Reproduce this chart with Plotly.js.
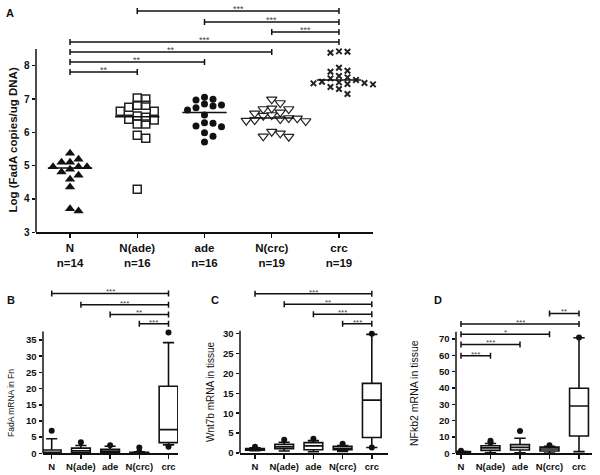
<!DOCTYPE html>
<html><head><meta charset="utf-8">
<script src="https://cdn.plot.ly/plotly-3.0.1.min.js"></script>
<style>html,body{margin:0;padding:0;background:#fff}#chart{width:600px;height:475px}</style>
</head><body><div id="chart"></div>
<script>
// ---------- data ----------
const groups = ['N', 'N(ade)', 'ade', 'N(crc)', 'crc'];
const groupN = ['n=14', 'n=16', 'n=16', 'n=19', 'n=19'];

// Panel A: Log (FadA copies/ug DNA), individual samples
const aN    = [5.37, 4.97, 5.10, 5.10, 5.19, 4.89, 4.97, 4.97, 4.81, 4.71, 4.59, 4.36, 3.64, 3.71];
const aNade = [6.81, 7.00, 7.03, 6.81, 6.75, 6.63, 6.63, 6.45, 6.37, 6.49, 6.25, 6.25, 6.39, 5.91, 5.82, 4.29];
const aAde  = [6.82, 7.05, 6.97, 6.74, 6.67, 6.52, 6.17, 6.27, 5.99, 5.71, 6.99, 6.85, 6.79, 6.29, 6.19, 5.88];
const aNcrc = [6.99, 6.88, 6.72, 6.70, 6.70, 6.60, 6.57, 6.52, 6.50, 6.43, 6.42, 6.40, 6.37, 6.35, 6.34, 6.02, 5.97, 5.87, 5.88];
const aCrc  = [8.42, 8.39, 8.43, 7.94, 7.82, 7.85, 7.69, 7.65, 7.57, 7.62, 7.47, 7.45, 7.52, 7.48, 7.44, 7.36, 7.30, 7.15, 7.50];
const sigAFrom = [0, 0, 0, 0, 3, 2, 1];
const sigATo   = [1, 2, 3, 4, 4, 4, 4];
const sigALevel = [7.81, 8.11, 8.41, 8.71, 9.01, 9.31, 9.64];
const sigALabel = ['**', '**', '**', '***', '***', '***', '***'];

// Panel B: FadA mRNA in Fn (box summaries)
const bQ1  = [0.0, 0.2, 0.1, 0.05, 3.3];
const bMed = [0.3, 0.8, 0.6, 0.15, 7.3];
const bQ3  = [1.0, 1.6, 1.2, 0.3, 20.7];
const bLo  = [0.0, 0.0, 0.0, 0.0, 2.6];
const bHi  = [4.5, 2.4, 2.2, 0.45, 34.2];
const bOutGroup = [0, 1, 2, 3, 3, 4, 4];
const bOutVal   = [7.0, 3.4, 2.5, 1.8, 0.5, 37.3, 2.0];
const sigBFrom = [0, 1, 2, 3];
const sigBTo   = [4, 4, 4, 4];
const sigBLevel = [49.4, 45.9, 42.9, 40.0];
const sigBLabel = ['***', '***', '**', '***'];

// Panel C: Wnt7b mRNA in tissue
const cQ1  = [0.7, 1.1, 0.8, 0.85, 3.9];
const cMed = [0.9, 1.6, 1.8, 1.2, 13.3];
const cQ3  = [1.1, 2.2, 2.6, 1.7, 17.5];
const cLo  = [0.6, 0.5, 0.3, 0.4, 1.4];
const cHi  = [1.3, 2.7, 3.1, 1.9, 29.8];
const cOutGroup = [0, 1, 2, 3, 4, 4];
const cOutVal   = [1.6, 3.3, 3.6, 2.3, 30.0, 1.4];
const sigCFrom = [0, 1, 2, 3];
const sigCTo   = [4, 4, 4, 4];
const sigCLevel = [40.05, 37.4, 34.85, 32.5];
const sigCLabel = ['***', '**', '***', '***'];

// Panel D: NFkb2 mRNA in tissue
const dQ1  = [0.5, 1.8, 2.0, 1.4, 10.6];
const dMed = [0.8, 3.3, 3.6, 2.6, 29.0];
const dQ3  = [1.0, 4.6, 5.3, 3.8, 39.8];
const dLo  = [0.3, 0.3, 0.3, 0.2, 1.0];
const dHi  = [1.3, 6.0, 9.2, 4.3, 70.8];
const dOutGroup = [0, 1, 1, 2, 3, 4];
const dOutVal   = [1.6, 7.7, 6.6, 13.7, 4.9, 71.0];
const sigDFrom = [3, 0, 0, 0, 0];
const sigDTo   = [4, 4, 3, 2, 1];
const sigDLevel = [85.7, 79.2, 72.9, 66.7, 59.8];
const sigDLabel = ['**', '***', '*', '***', '***'];

// ---------- geometry (pixels of the 600x475 page) ----------
const W = 600, H = 475;
const FONT = 'Liberation Sans, Arial, sans-serif';
const geo = {
  A: {x0: 36,  x1: 373,   yb: 232.3, yt: 4.06,  xr: [-0.506, 4.506], yr: [3, 9.85], axTop: 8.5, ticks: [3,4,5,6,7,8]},
  B: {x0: 43,  x1: 178,   yb: 453.3, yt: 285.0, xr: [-0.298, 4.325], yr: [0, 52],   axTop: 37.6, ticks: [0,5,10,15,20,25,30,35]},
  C: {x0: 240, x1: 388.3, yb: 453.0, yt: 281.9, xr: [-0.514, 4.565], yr: [0, 43],   axTop: 30.7, ticks: [0,5,10,15,20,25,30]},
  D: {x0: 456, x1: 591.7, yb: 453.3, yt: 303.1, xr: [-0.169, 4.43],  yr: [0, 92],   axTop: 74.5, ticks: [0,10,20,30,40,50,60,70]}
};
function pxPerY(g){ return (g.yb - g.yt) / (g.yr[1] - g.yr[0]); }
function pxPerX(g){ return (g.x1 - g.x0) / (g.xr[1] - g.xr[0]); }

const traces = [];
const shapes = [];
const annotations = [];
const layout = {
  width: W, height: H, margin: {l: 0, r: 0, t: 0, b: 0},
  paper_bgcolor: '#fff', plot_bgcolor: 'rgba(0,0,0,0)',
  showlegend: false, font: {family: FONT, color: '#111'},
  shapes: shapes, annotations: annotations
};

const ids = {A: ['x', 'y', 'xaxis', 'yaxis'], B: ['x2', 'y2', 'xaxis2', 'yaxis2'], C: ['x3', 'y3', 'xaxis3', 'yaxis3'], D: ['x4', 'y4', 'xaxis4', 'yaxis4']};

function setupAxes(key, tickText, xFontSize, yFontSize) {
  const g = geo[key], [xa, ya, xk, yk] = ids[key];
  layout[xk] = {
    domain: [g.x0 / W, g.x1 / W], range: g.xr, anchor: ya,
    showgrid: false, zeroline: false, showline: true, linecolor: '#111', linewidth: 1.5,
    ticks: 'outside', ticklen: 4, tickwidth: 1.5, tickcolor: '#111',
    tickvals: [0, 1, 2, 3, 4], ticktext: tickText,
    tickfont: {family: FONT, size: xFontSize, weight: 'bold', color: '#111'}, fixedrange: true
  };
  layout[yk] = {
    domain: [1 - g.yb / H, 1 - g.yt / H], range: g.yr, anchor: xa,
    showgrid: false, zeroline: false, showline: false,
    ticks: 'outside', ticklen: 3.5, tickwidth: 1.5, tickcolor: '#111',
    tickvals: g.ticks, tickfont: {family: FONT, size: yFontSize, weight: 'bold', color: '#111'}, fixedrange: true
  };
  shapes.push({type: 'line', xref: xa + ' domain', yref: ya, x0: 0, x1: 0, y0: g.yr[0], y1: g.axTop,
               line: {color: '#111', width: 1.5}});
}

function addBrackets(key, from, to, level, label, labelSize) {
  const g = geo[key], [xa, ya] = ids[key];
  const cap = 3 / pxPerY(g);
  const xs = [], ys = [];
  for (let i = 0; i < from.length; i++) {
    const a = from[i], b = to[i], y = level[i];
    xs.push(a, a, null, a, b, null, b, b, null);
    ys.push(y - cap, y + cap, null, y, y, null, y - cap, y + cap, null);
    annotations.push({xref: xa, yref: ya, x: (a + b) / 2, y: y, text: label[i], showarrow: false,
      xanchor: 'center', yanchor: 'bottom', yshift: -5,
      font: {family: FONT, size: labelSize, color: '#444'}});
  }
  traces.push({type: 'scatter', mode: 'lines', x: xs, y: ys, xaxis: xa, yaxis: ya,
    line: {color: '#111', width: 1.5}, hoverinfo: 'skip', cliponaxis: false});
}

function median(arr) {
  const s = arr.slice().sort((a, b) => a - b), n = s.length;
  return n % 2 ? s[(n - 1) / 2] : (s[n / 2 - 1] + s[n / 2]) / 2;
}

// deterministic column-swarm layout (like GraphPad scatter dot plots)
function swarm(vals, center, stepU, dyU) {
  const order = vals.map((v, i) => i).sort((a, b) => vals[b] - vals[a]);
  const placed = [], xs = new Array(vals.length);
  for (const i of order) {
    const v = vals[i];
    for (let k = 0; k < 60; k++) {
      const off = k === 0 ? 0 : (k % 2 ? (k + 1) / 2 : -k / 2);
      const ok = placed.every(p => p.o !== off || Math.abs(p.v - v) >= dyU);
      if (ok) { placed.push({o: off, v: v}); xs[i] = center + off * stepU; break; }
    }
  }
  return xs;
}

// ---------- Panel A ----------
setupAxes('A', groups.map((g, i) => g + '<br>' + groupN[i]), 11.5, 10);
(function () {
  const g = geo.A;
  const stepU = 8.5 / pxPerX(g), dyU = 6 / pxPerY(g);
  const series = [aN, aNade, aAde, aNcrc, aCrc];
  const markers = [
    {symbol: 'triangle-up', size: 9, color: '#111', line: {width: 0}},
    {symbol: 'square-open', size: 8, color: '#222', line: {width: 1.5, color: '#222'}},
    {symbol: 'circle', size: 7, color: '#111', line: {width: 0}},
    {symbol: 'triangle-down-open', size: 9, color: '#222', line: {width: 1.2, color: '#222'}},
    {symbol: 'x-thin', size: 5.5, color: '#222', line: {width: 2, color: '#222'}}
  ];
  const mx = [], my = [];
  series.forEach((vals, gi) => {
    traces.push({type: 'scatter', mode: 'markers', x: swarm(vals, gi, stepU, dyU), y: vals,
      xaxis: 'x', yaxis: 'y', marker: markers[gi], hoverinfo: 'y', cliponaxis: false});
    const m = median(vals);
    mx.push(gi - 0.33, gi + 0.33, null); my.push(m, m, null);
  });
  traces.push({type: 'scatter', mode: 'lines', x: mx, y: my, xaxis: 'x', yaxis: 'y',
    line: {color: '#111', width: 1.5}, hoverinfo: 'skip'});
})();
addBrackets('A', sigAFrom, sigATo, sigALevel, sigALabel, 9);

// ---------- Box panels ----------
function boxPanel(key, q1, med, q3, lo, hi, outG, outV) {
  const [xa, ya] = ids[key];
  traces.push({type: 'box', x: [0, 1, 2, 3, 4], q1: q1, median: med, q3: q3,
    lowerfence: lo, upperfence: hi, xaxis: xa, yaxis: ya, width: 0.64, whiskerwidth: 0.6,
    boxpoints: false, fillcolor: '#fff', line: {color: '#111', width: 1.6}, hoverinfo: 'y'});
  traces.push({type: 'scatter', mode: 'markers', x: outG, y: outV, xaxis: xa, yaxis: ya,
    marker: {symbol: 'circle', size: 6, color: '#111'}, hoverinfo: 'y', cliponaxis: false});
}
setupAxes('B', groups, 9.5, 9.5);
boxPanel('B', bQ1, bMed, bQ3, bLo, bHi, bOutGroup, bOutVal);
addBrackets('B', sigBFrom, sigBTo, sigBLevel, sigBLabel, 8);

setupAxes('C', groups, 9.5, 9.5);
boxPanel('C', cQ1, cMed, cQ3, cLo, cHi, cOutGroup, cOutVal);
addBrackets('C', sigCFrom, sigCTo, sigCLevel, sigCLabel, 8);

setupAxes('D', groups, 9.5, 9.5);
boxPanel('D', dQ1, dMed, dQ3, dLo, dHi, dOutGroup, dOutVal);
addBrackets('D', sigDFrom, sigDTo, sigDLevel, sigDLabel, 8);

// ---------- titles / panel letters ----------
function paperText(text, px, py, size, bold, angle) {
  annotations.push({xref: 'paper', yref: 'paper', x: px / W, y: 1 - py / H, text: text, showarrow: false,
    xanchor: 'center', yanchor: 'middle', textangle: angle || 0,
    font: {family: FONT, size: size, weight: bold ? 'bold' : 'normal', color: '#111'}});
}
paperText('A', 10, 13, 11, true);
paperText('B', 11, 300, 11, true);
paperText('C', 215, 300, 11, true);
paperText('D', 438, 300, 11, true);
paperText('Log (FadA copies/ug DNA)', 12, 140.5, 11.5, true, -90);
paperText('FadA mRNA in Fn', 11, 403, 8.5, false, -90);
paperText('Wnt7b mRNA in tissue', 210, 392, 10, false, -90);
paperText('NFkb2 mRNA in tissue', 414, 393, 10.5, false, -90);

Plotly.newPlot('chart', traces, layout, {displayModeBar: false, staticPlot: true});
</script>
</body></html>
